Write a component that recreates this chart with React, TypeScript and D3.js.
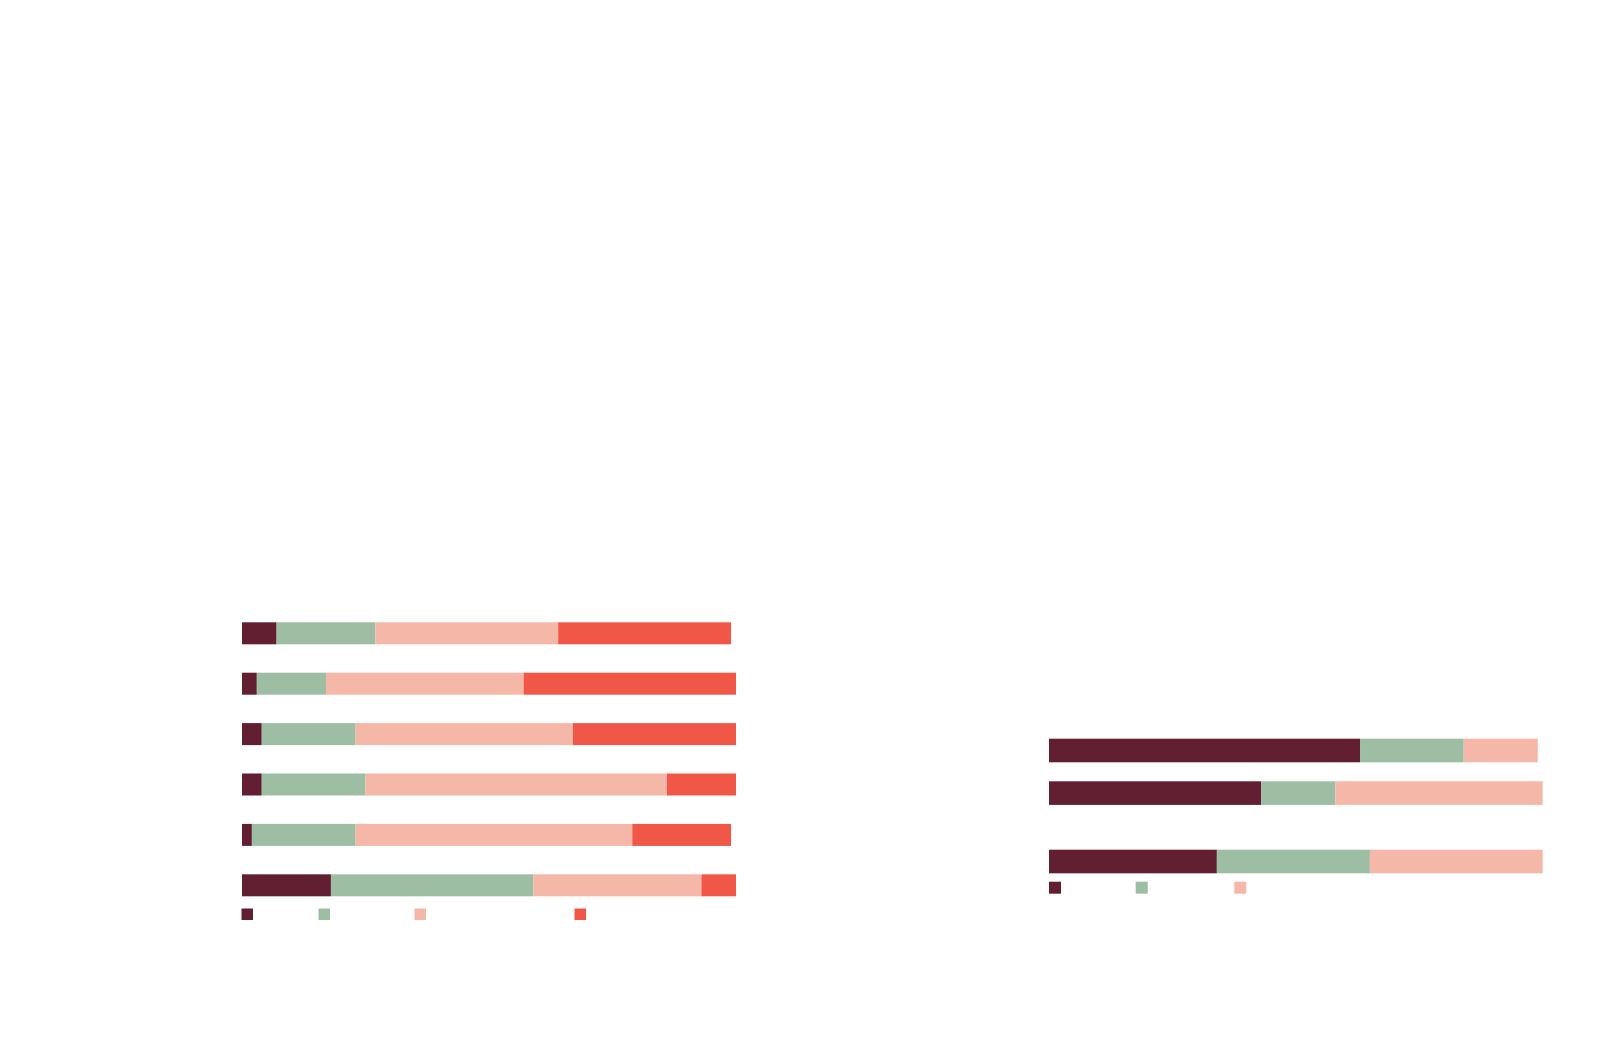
import React from 'react'
import * as d3 from 'd3'

// ---- data (percent shares) ----
const leftCategories = ['r1', 'r2', 'r3', 'r4', 'r5', 'r6']
const leftKeys = ['s1', 's2', 's3', 's4']
const leftS1 = [7, 3, 4, 4, 2, 18]
const leftS2 = [20, 14, 19, 21, 21, 41]
const leftS3 = [37, 40, 44, 61, 56, 34]
const leftS4 = [35, 43, 33, 14, 20, 7]

const rightCategories = ['q1', 'q2', 'q3']
const rightSections = [0, 0, 1]
const rightKeys = ['s1', 's2', 's3']
const rightS1 = [63, 43, 34]
const rightS2 = [21, 15, 31]
const rightS3 = [15, 42, 35]

const colors = ['#611f31', '#9dbea2', '#f4b7a8', '#f15746']

type Row = { cat: string; [k: string]: number | string }

const buildRows = (cats: string[], keys: string[], series: number[][]): Row[] =>
  cats.map((cat, i) => {
    const r: Row = { cat }
    keys.forEach((k, j) => (r[k] = series[j][i]))
    return r
  })

interface StackProps {
  rows: Row[]
  keys: string[]
  x: d3.ScaleLinear<number, number>
  yPos: (cat: string) => number
  barH: number
}

const StackedBars: React.FC<StackProps> = ({ rows, keys, x, yPos, barH }) => {
  const stacked = d3.stack<Row>().keys(keys).value((d, k) => d[k] as number)(rows)
  return (
    <g>
      {stacked.map((layer, li) => (
        <g key={layer.key} fill={colors[li]}>
          {layer.map((d) => (
            <rect
              key={d.data.cat}
              x={x(d[0])}
              y={yPos(d.data.cat)}
              width={Math.max(0, x(d[1]) - x(d[0]))}
              height={barH}
            />
          ))}
        </g>
      ))}
    </g>
  )
}

const Legend: React.FC<{ x0: number; y: number; steps: number[]; n: number; size: number }> = ({
  x0,
  y,
  steps,
  n,
  size,
}) => {
  let cx = x0
  return (
    <g>
      {d3.range(n).map((i) => {
        const xx = cx
        cx += steps[i] || 0
        return <rect key={i} x={xx} y={y} width={size} height={size} fill={colors[i]} />
      })}
    </g>
  )
}

export default function App() {
  const width = 1614
  const height = 1043

  // ----------- left chart -----------
  const leftRows = buildRows(leftCategories, leftKeys, [leftS1, leftS2, leftS3, leftS4])
  const xL = d3.scaleLinear().domain([0, 100]).range([242, 736])
  const yL = d3
    .scaleBand()
    .domain(leftCategories)
    .range([622.3, 896.3])
    .paddingInner(0.5635)
    .paddingOuter(0)

  // ----------- right chart -----------
  const rightRows = buildRows(rightCategories, rightKeys, [rightS1, rightS2, rightS3])
  const xR = d3.scaleLinear().domain([0, 100]).range([1049, 1542.7])
  const yR = d3
    .scaleBand()
    .domain(rightCategories)
    .range([738.7, 847.5])
    .paddingInner(0.446)
    .paddingOuter(0)
  const sectionGap = 25.8
  const yRight = (c: string) => yR(c)! + rightSections[rightCategories.indexOf(c)] * sectionGap

  return (
    <svg
      width={width}
      height={height}
      style={{ position: 'absolute', left: 0, top: 0, background: '#fff' }}
    >
      <StackedBars rows={leftRows} keys={leftKeys} x={xL} yPos={(c) => yL(c)!} barH={yL.bandwidth()} />
      <Legend x0={241.5} y={908.5} steps={[77, 96, 160]} n={4} size={11.5} />

      <StackedBars rows={rightRows} keys={rightKeys} x={xR} yPos={yRight} barH={yR.bandwidth()} />
      <Legend x0={1049} y={881.7} steps={[86.7, 98.6]} n={3} size={12} />
    </svg>
  )
}
